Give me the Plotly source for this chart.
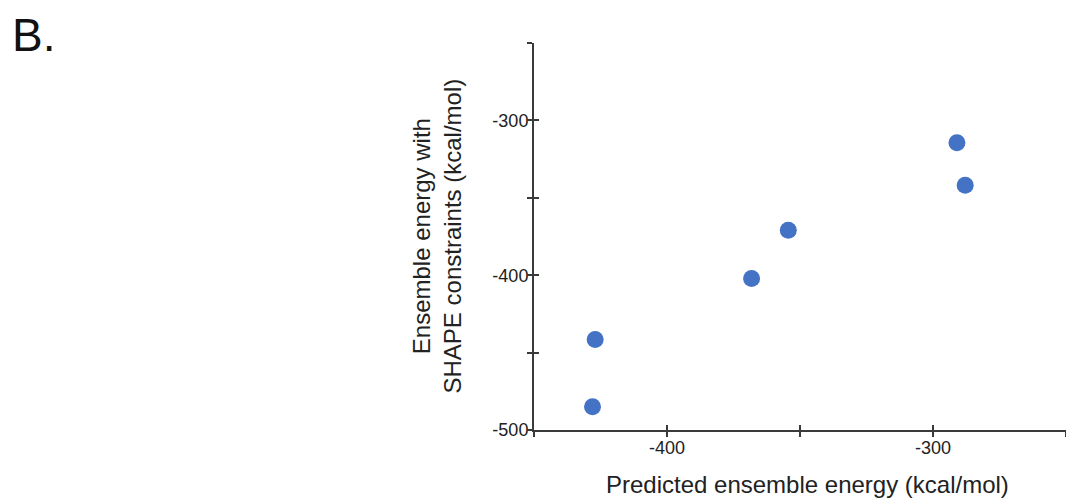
import plotly.graph_objects as go

predicted = [-291.0, -287.9, -354.4, -368.2, -427.0, -428.0]
shape_constrained = [-314.4, -341.9, -371.0, -402.1, -441.5, -485.0]

x_tickvals = [-450, -400, -350, -300, -250]
x_ticktext = ["", "-400", "", "-300", ""]
y_tickvals = [-500, -450, -400, -350, -300, -250]
y_ticktext = ["-500", "", "-400", "", "-300", ""]

font_family = "Liberation Sans, Arial, sans-serif"
axis_color = "#3a3a3a"

fig = go.Figure()
fig.add_trace(go.Scatter(
    x=predicted, y=shape_constrained, mode="markers",
    marker=dict(size=17, color="#4472C4"),
    showlegend=False, cliponaxis=False,
))

common = dict(showgrid=False, zeroline=False, showline=True, linecolor=axis_color,
              linewidth=2, tickcolor=axis_color, tickwidth=1.5, ticklen=5)

fig.update_layout(
    width=1066, height=499,
    margin=dict(l=534, r=0, t=43, b=69),
    paper_bgcolor="white", plot_bgcolor="white",
    font=dict(family=font_family, color="#222222", size=18),
    xaxis=dict(range=[-450, -250], tickvals=x_tickvals, ticktext=x_ticktext,
               ticks="inside", tickfont=dict(size=18), **common),
    yaxis=dict(range=[-500, -250], tickvals=y_tickvals, ticktext=y_ticktext,
               ticks="inside", tickfont=dict(size=18), **common),
    xaxis2=dict(range=[-450, -250], tickvals=x_tickvals, showticklabels=False,
                ticks="outside", overlaying="x", anchor="y", **common),
    yaxis2=dict(range=[-500, -250], tickvals=y_tickvals, showticklabels=False,
                ticks="outside", overlaying="y", anchor="x", **common),
)
# dummy trace to activate overlay axes
fig.add_trace(go.Scatter(x=[None], y=[None], xaxis="x2", yaxis="y2", showlegend=False))

fig.add_annotation(text="Predicted ensemble energy (kcal/mol)", xref="paper", yref="paper",
                   x=0.5, y=0, yanchor="middle", xanchor="center", yshift=-54, xshift=7,
                   showarrow=False,
                   font=dict(size=24, family=font_family, color="#222222"))
fig.add_annotation(text="Ensemble energy with<br>SHAPE constraints (kcal/mol)",
                   xref="paper", yref="paper", x=0, y=0.5, xanchor="center", yanchor="middle",
                   xshift=-98, textangle=-90, showarrow=False,
                   font=dict(size=24, family=font_family, color="#222222"))
fig.add_annotation(text="B.", xref="paper", yref="paper", x=-534/532, y=1,
                   xanchor="left", yanchor="top", yshift=36, xshift=10, showarrow=False,
                   font=dict(size=46, family=font_family, color="#111111"))

fig.write_html("out.html")
